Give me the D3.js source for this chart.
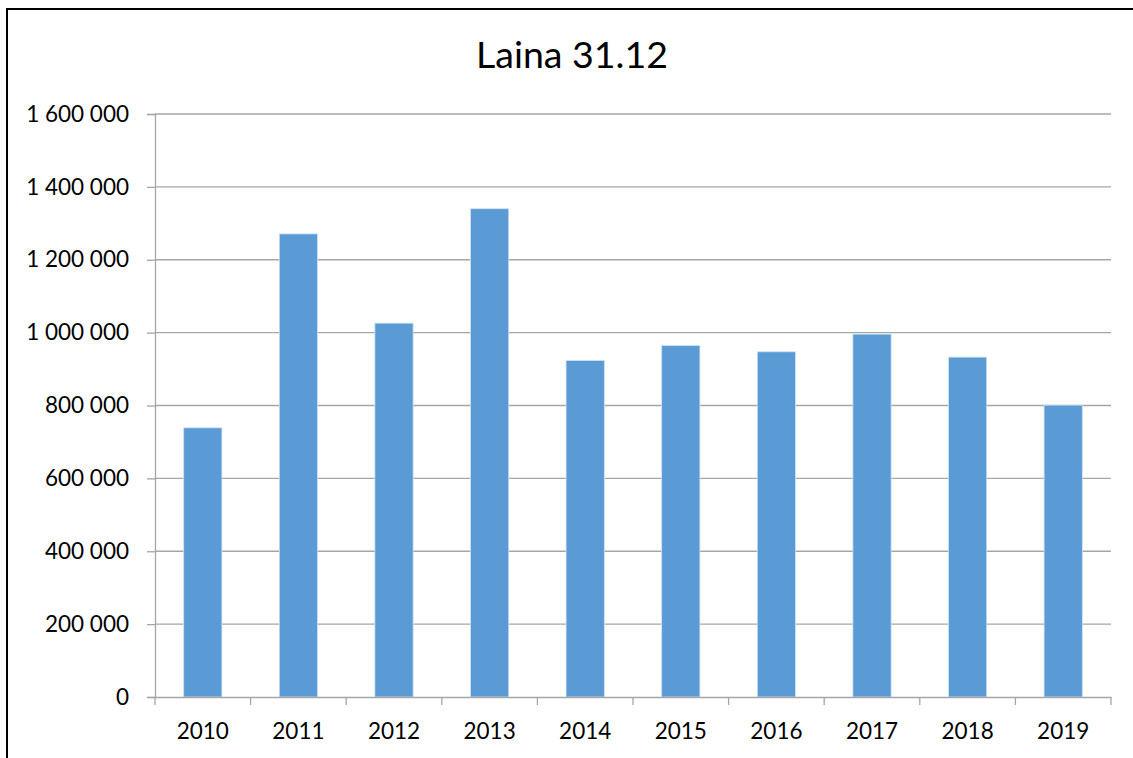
<!DOCTYPE html>
<html>
<head>
<meta charset="utf-8">
<script src="https://cdn.jsdelivr.net/npm/d3@7"></script>
<style>
  body { margin: 0; background: #fff; }
  svg { display: block; font-family: Lato, "Open Sans", sans-serif; }
</style>
</head>
<body>
<svg id="chart" width="1133" height="758"></svg>
<script>
// data
var years = ["2010", "2011", "2012", "2013", "2014", "2015", "2016", "2017", "2018", "2019"];
var loans = [738700, 1271000, 1026000, 1340000, 923500, 964700, 947400, 995900, 932800, 801000];
var yTicks = [0, 200000, 400000, 600000, 800000, 1000000, 1200000, 1400000, 1600000];
var title = "Laina 31.12";

var svg = d3.select("#chart");

var plotLeft = 155, plotRight = 1111, plotTop = 114, plotBottom = 697;

// outer frame
svg.append("rect")
    .attr("x", 7)
    .attr("y", 9)
    .attr("width", 1140)
    .attr("height", 780)
    .attr("fill", "none")
    .attr("stroke", "#000")
    .attr("stroke-width", 2);

var x = d3.scaleBand()
    .domain(years)
    .range([plotLeft, plotRight])
    .paddingInner(0.6)
    .paddingOuter(0.3);

var y = d3.scaleLinear()
    .domain([0, 1600000])
    .range([plotBottom, plotTop]);

var fmt = function (d) {
    return d3.format(",")(d).replace(/,/g, " ");
};

// gridlines
svg.append("g")
    .selectAll("line")
    .data(yTicks.filter(function (d) { return d > 0; }))
    .enter().append("line")
    .attr("x1", plotLeft)
    .attr("x2", plotRight)
    .attr("y1", function (d) { return y(d); })
    .attr("y2", function (d) { return y(d); })
    .attr("stroke", "#a6a6a6")
    .attr("stroke-width", 1.3);

// y axis
var yAxis = svg.append("g")
    .attr("transform", "translate(" + plotLeft + ",0)")
    .call(d3.axisLeft(y).tickValues(yTicks).tickFormat(fmt).tickSize(8).tickPadding(18));
yAxis.select(".domain").attr("stroke", "#a6a6a6").attr("stroke-width", 1.3);
yAxis.selectAll(".tick line").attr("stroke", "#a6a6a6").attr("stroke-width", 1.3);
yAxis.selectAll("text")
    .attr("font-size", "22.5px")
    .attr("fill", "#000")
    .attr("font-family", "Lato, sans-serif");

// bars
svg.append("g")
    .selectAll("rect")
    .data(years)
    .enter().append("rect")
    .attr("x", function (d) { return x(d); })
    .attr("y", function (d, i) { return y(loans[i]); })
    .attr("width", x.bandwidth())
    .attr("height", function (d, i) { return plotBottom - y(loans[i]); })
    .attr("fill", "#5b9bd5")
    .attr("stroke", "#d0e1f2")
    .attr("stroke-width", 0.8);

// x axis
var xAxis = svg.append("g")
    .attr("transform", "translate(0," + plotBottom + ")")
    .call(d3.axisBottom(x).tickSize(0).tickPadding(26));
xAxis.select(".domain").attr("stroke", "#a6a6a6").attr("stroke-width", 1.3);
xAxis.selectAll("text")
    .attr("font-size", "22.5px")
    .attr("fill", "#000")
    .attr("font-family", "Lato, sans-serif");

// category boundary ticks
var bounds = years.map(function (d) { return x(d) - x.step() * x.paddingOuter(); });
bounds.push(plotRight);
svg.append("g")
    .selectAll("line")
    .data(bounds)
    .enter().append("line")
    .attr("x1", function (d) { return d; })
    .attr("x2", function (d) { return d; })
    .attr("y1", plotBottom)
    .attr("y2", plotBottom + 8)
    .attr("stroke", "#a6a6a6")
    .attr("stroke-width", 1.3);

// title
svg.append("text")
    .attr("x", 572)
    .attr("y", 68)
    .attr("text-anchor", "middle")
    .attr("font-size", "37.5px")
    .attr("fill", "#000")
    .text(title);
</script>
</body>
</html>
